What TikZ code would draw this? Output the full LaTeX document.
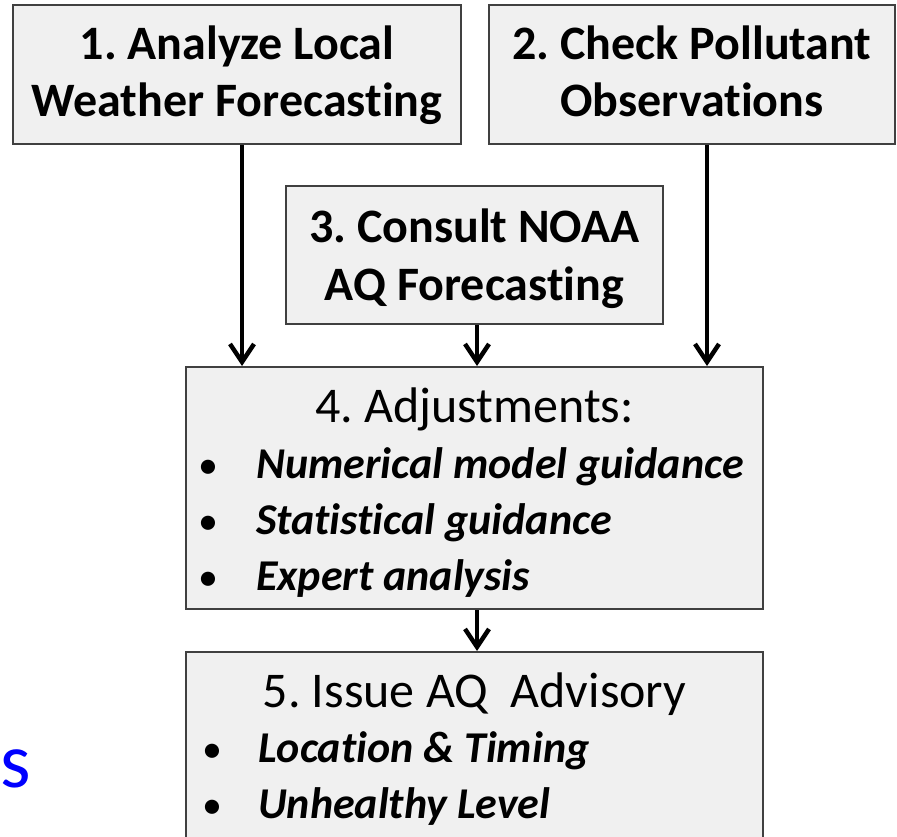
\documentclass[tikz,border=0pt]{standalone}
\usepackage{fontspec}
\setmainfont{Carlito}[Ligatures=NoCommon]
\usetikzlibrary{arrows.meta}
\frenchspacing
\begin{document}
\begin{tikzpicture}[x=1pt,y=-1pt,
  box/.style={draw=black!75,line width=2pt,fill=black!6,inner sep=0pt,minimum width=#1},
  arr/.style={line width=4.5pt,-{Straight Barb[length=18pt,width=24pt,line width=4.5pt]}},
  hd/.style={anchor=base,inner sep=0pt,font=\bfseries\fontsize{48}{57}\selectfont},
  hr/.style={anchor=base,inner sep=0pt,font=\fontsize{50}{57}\selectfont},
  bl/.style={anchor=base west,inner sep=0pt,font=\bfseries\itshape\fontsize{44}{48}\selectfont},
  dot/.style={anchor=base,inner sep=0pt,font=\fontsize{40}{48}\selectfont}]
\useasboundingbox (0,0) rectangle (897,837);
\clip (0,0) rectangle (897,837);
% boxes
\node[box=448pt,minimum height=139pt] (b1) at (237,74.5) {};
\node[box=406pt,minimum height=139pt] (b2) at (692,74.5) {};
\node[box=377pt,minimum height=138pt] (b3) at (474.5,255) {};
\node[box=577pt,minimum height=242pt] (b4) at (474.5,488) {};
\node[box=577pt,minimum height=220pt] (b5) at (474.5,762) {};
% texts
\node[hd] (t1a) at (237,60) {1. Analyze Local};
\node[hd] (t1b) at (237,117) {Weather Forecasting};
\node[hd] (t2a) at (692,60) {2. Check Pollutant};
\node[hd] (t2b) at (692,117) {Observations};
\node[hd] (t3a) at (474.5,243) {3. Consult NOAA};
\node[hd] (t3b) at (474.5,300) {AQ Forecasting};
\node[hr] (t4) at (474.5,422) {4. Adjustments:};
\node[dot] (d41) at (208,478) {•};
\node[bl] (t41) at (256,478) {Numerical model guidance};
\node[dot] (d42) at (208,534) {•};
\node[bl] (t42) at (256,534) {Statistical guidance};
\node[dot] (d43) at (208,590) {•};
\node[bl] (t43) at (256,590) {Expert analysis};
\node[hr] (t5) at (474.5,707) {5. Issue AQ\ \ Advisory};
\node[dot] (d51) at (212,762) {•};
\node[bl] (t51) at (258,762) {Location \& Timing};
\node[dot] (d52) at (212,818) {•};
\node[bl] (t52) at (258,818) {Unhealthy Level};
\node[anchor=base west,inner sep=0pt,text={rgb,255:red,0;green,0;blue,255},font=\fontsize{78}{90}\selectfont] (s) at (0,787) {s};
% arrows
\draw[arr] ([xshift=5pt]b1.south) -- ([xshift=5pt]b1.south |- b4.north);
\draw[arr] ([xshift=15pt]b2.south) -- ([xshift=15pt]b2.south |- b4.north);
\draw[arr] ([xshift=2.5pt]b3.south) -- ([xshift=2.5pt]b3.south |- b4.north);
\draw[arr] ([xshift=2.5pt]b4.south) -- ([xshift=2.5pt]b4.south |- b5.north);
\end{tikzpicture}
\end{document}
